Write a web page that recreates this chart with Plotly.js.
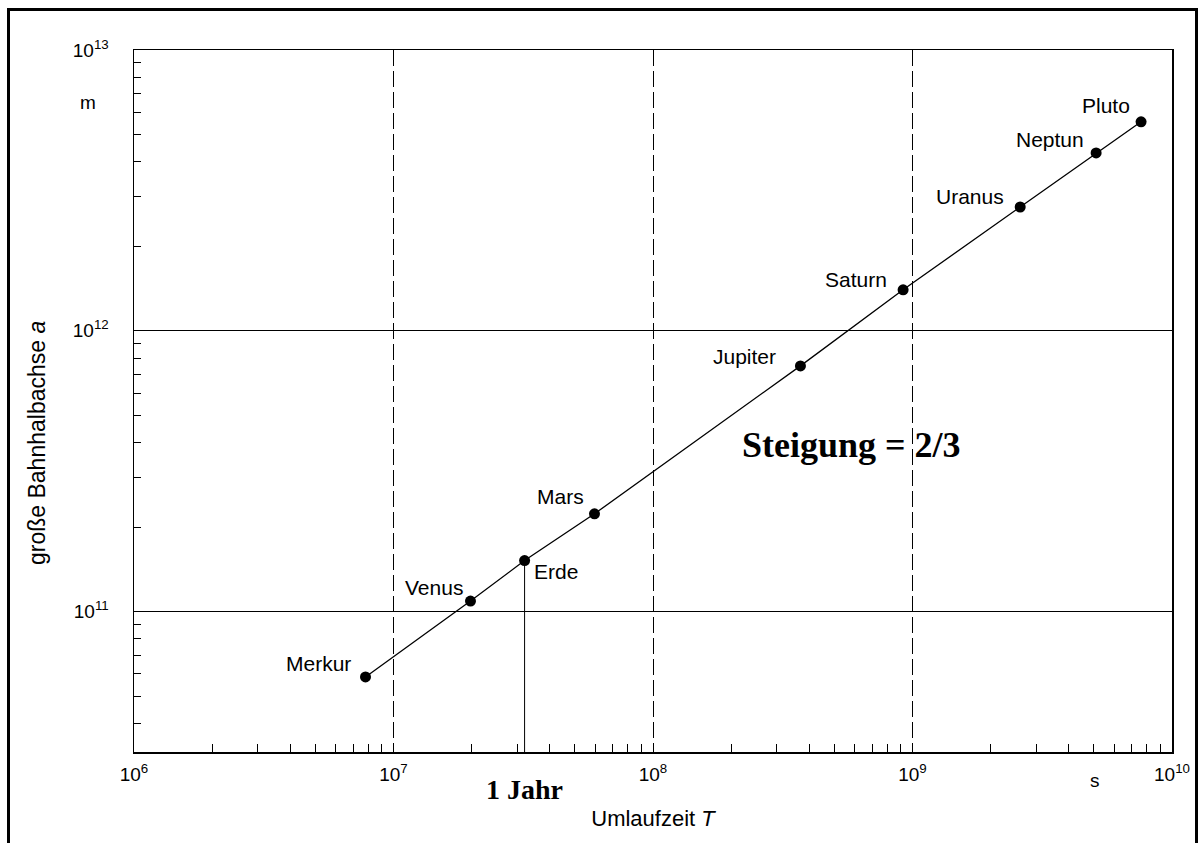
<!DOCTYPE html>
<html>
<head>
<meta charset="utf-8">
<script src="https://cdn.plot.ly/plotly-3.0.1.min.js"></script>
<style>
  html, body { margin: 0; padding: 0; background: #fff; }
  #chart { width: 1204px; height: 843px; }
</style>
</head>
<body>
<div id="chart"></div>
<script>
// ---- data ----
const planets = ['Merkur', 'Venus', 'Erde', 'Mars', 'Jupiter', 'Saturn', 'Uranus', 'Neptun', 'Pluto'];
const periodS = [7.8e6, 1.98e7, 3.2e7, 5.95e7, 3.7e8, 9.2e8, 2.6e9, 5.1e9, 7.6e9];        // Umlaufzeit T in s
const semiMajorM = [5.85e10, 1.09e11, 1.52e11, 2.23e11, 7.5e11, 1.4e12, 2.76e12, 4.3e12, 5.55e12]; // a in m

const xTickVals = [1e6, 1e7, 1e8, 1e9, 1e10];
const xTickText = ['10<sup>6</sup>', '10<sup>7</sup>', '10<sup>8</sup>', '10<sup>9</sup>', '10<sup>10</sup>'];
const yTickVals = [3.16e10, 1e11, 1e12, 1e13];
const yTickText = ['10<sup>10</sup>', '10<sup>11</sup>', '10<sup>12</sup>', '10<sup>13</sup>'];
const yRangeLog = [10.5, 13];
const xRangeLog = [6, 10];
const yearIndex = planets.indexOf('Erde');

// label offsets (styling only, pixels)
const labelDx = [-47, -36, 31, -34, -56, -47, -50, -46, -35];
const labelDy = [13, 14, -11, 17, 9, 10, 10, 13, 16];

const FONT = 'Liberation Sans, Arial, Helvetica, sans-serif';
const SERIF = 'Liberation Serif, Times New Roman, serif';

const traces = [
  {
    x: periodS, y: semiMajorM, type: 'scatter', mode: 'lines+markers',
    line: { color: '#000', width: 1.3 },
    marker: { color: '#000', size: 11 },
    hoverinfo: 'skip', showlegend: false
  },
  {
    x: [periodS[yearIndex], periodS[yearIndex]],
    y: [semiMajorM[yearIndex], Math.pow(10, yRangeLog[0])],
    type: 'scatter', mode: 'lines',
    line: { color: '#000', width: 1 },
    hoverinfo: 'skip', showlegend: false
  }
];

const annotations = planets.map((p, i) => ({
  x: Math.log10(periodS[i]), y: Math.log10(semiMajorM[i]),
  xref: 'x', yref: 'y', text: p, showarrow: false,
  xanchor: 'center', yanchor: 'middle',
  xshift: labelDx[i], yshift: labelDy[i],
  font: { family: FONT, size: 21, color: '#000' }
}));

annotations.push(
  { xref: 'paper', yref: 'paper', x: (851 - 134) / 1038, y: (752 - 445) / 702, text: '<b>Steigung = 2/3</b>', showarrow: false,
    xanchor: 'center', yanchor: 'middle',
    font: { family: SERIF, size: 36, color: '#000' } },
  { xref: 'x', yref: 'paper', x: Math.log10(periodS[yearIndex]), y: (752 - 789) / 702, text: '<b>1 Jahr</b>', showarrow: false,
    xanchor: 'center', yanchor: 'middle',
    font: { family: SERIF, size: 28, color: '#000' } },
  { xref: 'paper', yref: 'paper', x: (88 - 134) / 1038, y: (752 - 102) / 702, text: 'm', showarrow: false,
    xanchor: 'center', yanchor: 'middle',
    font: { family: FONT, size: 19, color: '#000' } },
  { xref: 'paper', yref: 'paper', x: (1095 - 134) / 1038, y: (752 - 780) / 702, text: 's', showarrow: false,
    xanchor: 'center', yanchor: 'middle',
    font: { family: FONT, size: 19, color: '#000' } },
  { xref: 'paper', yref: 'paper', x: (37 - 134) / 1038, y: (752 - 443) / 702, text: 'große Bahnhalbachse <i>a</i>', showarrow: false,
    xanchor: 'center', yanchor: 'middle',
    textangle: -90, font: { family: FONT, size: 23, color: '#000' } }
);

const layout = {
  width: 1204, height: 843,
  margin: { l: 134, r: 32, t: 50, b: 91 },
  paper_bgcolor: '#fff', plot_bgcolor: '#fff',
  showlegend: false,
  font: { family: FONT, color: '#000' },
  xaxis: {
    type: 'log', range: xRangeLog,
    tickvals: xTickVals, ticktext: xTickText,
    tickfont: { family: FONT, size: 19, color: '#000' },
    ticks: 'inside', ticklen: 8, tickcolor: '#000', tickwidth: 1,
    ticklabelstandoff: 5,
    minor: { ticks: 'inside', ticklen: 8, tickcolor: '#000', tickwidth: 1, dtick: 'D1', showgrid: false },
    showgrid: true, gridcolor: '#000', gridwidth: 1, griddash: '16px,5px',
    showline: true, linecolor: '#000', linewidth: 1.5, mirror: true,
    zeroline: false,
    title: { text: 'Umlaufzeit <i>T</i>', font: { family: FONT, size: 22, color: '#000' }, standoff: 26 }
  },
  yaxis: {
    type: 'log', range: yRangeLog,
    tickvals: yTickVals, ticktext: yTickText,
    tickfont: { family: FONT, size: 19, color: '#000' },
    ticks: 'inside', ticklen: 7, tickcolor: '#000', tickwidth: 1,
    ticklabelstandoff: 20,
    minor: { ticks: 'inside', ticklen: 7, tickcolor: '#000', tickwidth: 1, dtick: 'D1', showgrid: false },
    showgrid: true, gridcolor: '#000', gridwidth: 1,
    showline: true, linecolor: '#000', linewidth: 1.5, mirror: true,
    zeroline: false
  },
  annotations: annotations,
  shapes: [
    { type: 'rect', xref: 'paper', yref: 'paper',
      x0: (8.5 - 134) / 1038, x1: (1196.5 - 134) / 1038,
      y0: (752 - 860) / 702, y1: (752 - 9.5) / 702,
      line: { color: '#000', width: 3 }, fillcolor: 'rgba(0,0,0,0)', layer: 'above' }
  ]
};

Plotly.newPlot('chart', traces, layout, { staticPlot: true, displayModeBar: false });
</script>
</body>
</html>
